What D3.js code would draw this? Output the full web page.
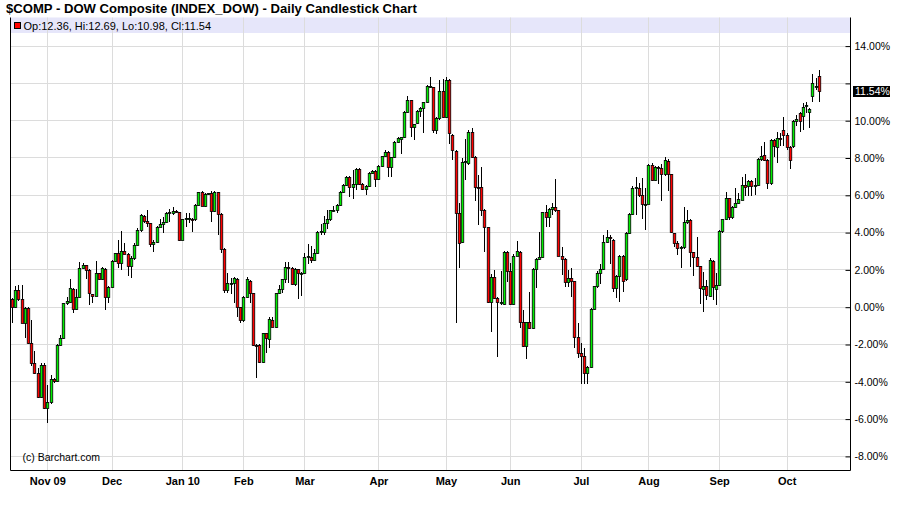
<!DOCTYPE html>
<html>
<head>
<meta charset="utf-8">
<script src="https://cdnjs.cloudflare.com/ajax/libs/d3/7.8.5/d3.min.js"></script>
<style>
	body { margin: 0; background: #fff; }
	svg { display: block; font-family: "Liberation Sans", Arial, Helvetica, sans-serif; }
</style>
</head>
<body>
<svg id="chart" width="900" height="511"></svg>
<script>
// daily candles, % change, Oct 16 2009 .. Oct 15 2010
var opens = [
	0.41, 0.00, 0.88, 0.41, -0.86, -0.09, -1.97, -3.00, -3.54, -4.84,
	-3.12, -5.45, -5.13, -3.86, -4.00, -2.06, -1.70, 0.18, 0.27, 0.93,
	-0.14, 0.50, 2.10, 2.22, 1.97, 0.68, 0.60, 1.79, 1.50, 2.00,
	0.54, 1.04, 2.43, 2.86, 2.32, 2.97, 2.83, 2.20, 2.60, 3.30,
	4.10, 4.86, 4.58, 4.47, 3.36, 3.49, 4.29, 4.41, 4.56, 5.00,
	5.00, 5.12, 5.06, 3.60, 4.68, 4.72, 4.70, 4.68, 5.43, 6.13,
	5.42, 6.04, 6.07, 5.11, 6.15, 4.95, 3.11, 0.88, 1.25, 1.28,
	1.48, -0.03, -0.73, 0.50, 1.38, 0.71, -2.05, -2.05, -2.95, -1.43,
	-1.75, -0.71, -1.10, 0.72, 0.95, 1.48, 2.15, 2.09, 1.23, 2.00,
	1.80, 1.80, 2.68, 2.68, 2.50, 2.90, 4.02, 4.02, 4.47, 4.68,
	5.18, 5.18, 5.45, 6.13, 6.52, 6.93, 6.40, 6.56, 7.38, 6.60,
	6.30, 6.47, 7.15, 7.30, 6.83, 7.55, 8.08, 8.30, 7.47, 8.00,
	8.83, 9.00, 9.10, 10.42, 11.06, 9.65, 9.83, 10.49, 10.63, 10.96,
	11.76, 11.76, 9.47, 10.10, 11.56, 10.19, 12.15, 9.20, 8.35, 5.00,
	3.45, 7.74, 7.69, 9.35, 8.04, 6.43, 6.40, 5.20, 4.29, 0.23,
	1.57, 0.45, 0.18, 0.13, 2.93, 1.93, 0.12, 2.72, 2.95, -0.84,
	-2.11, -0.84, -1.16, 2.00, 2.56, 2.65, 5.06, 4.83, 5.22, 5.36,
	5.18, 2.74, 2.56, 1.31, 1.52, 1.38, -1.61, -2.50, -2.64, -3.58,
	-3.25, -0.13, 1.09, 1.82, 2.00, 3.45, 3.72, 3.60, 0.98, 1.65,
	2.72, 1.47, 3.93, 4.95, 6.38, 6.38, 5.99, 5.49, 5.52, 7.60,
	6.79, 7.50, 7.42, 7.10, 7.80, 7.10, 3.93, 3.43, 3.13, 3.20,
	4.52, 4.63, 2.91, 2.65, 2.18, 0.93, 1.11, 0.57, 2.45, 0.93,
	1.16, 4.06, 4.68, 5.81, 4.79, 5.36, 5.58, 5.72, 6.52, 6.47,
	6.74, 6.47, 6.52, 7.90, 8.13, 7.86, 6.61, 8.94, 8.58, 9.04,
	9.50, 9.20, 8.54, 8.60, 9.95, 10.37, 10.20, 10.75, 10.42, 11.31,
	11.76, 12.36
];
var highs = [
	0.45, 1.10, 1.14, 1.14, 0.00, 0.00, -0.72, -2.40, -3.30, -3.04,
	-3.04, -4.20, -3.68, -3.80, -2.00, -1.50, 0.20, 0.50, 1.48, 1.00,
	0.95, 2.40, 2.35, 2.25, 2.00, 0.70, 2.45, 1.80, 2.12, 2.10,
	1.10, 2.50, 2.90, 3.56, 4.06, 3.40, 2.90, 2.70, 3.40, 4.20,
	4.95, 4.90, 5.18, 4.50, 3.55, 4.35, 4.68, 4.83, 5.10, 5.22,
	5.36, 5.20, 5.10, 4.70, 5.04, 5.00, 4.75, 5.50, 6.15, 6.20,
	6.10, 6.10, 6.20, 6.20, 6.17, 5.00, 3.15, 1.79, 1.55, 1.60,
	1.56, 0.00, 0.60, 1.57, 1.45, 0.75, -2.00, -1.98, -1.40, -1.40,
	-0.55, -0.55, 0.75, 1.16, 1.50, 2.41, 2.40, 2.15, 2.05, 2.02,
	1.85, 2.90, 3.34, 3.27, 3.07, 4.05, 4.43, 4.86, 5.18, 5.20,
	5.40, 5.50, 6.20, 6.60, 7.00, 7.00, 7.33, 7.45, 7.45, 6.65,
	6.50, 7.20, 7.35, 7.35, 7.60, 8.10, 8.40, 8.35, 8.05, 8.90,
	9.10, 9.10, 10.50, 11.30, 11.10, 9.80, 10.55, 10.70, 11.00, 11.90,
	12.33, 11.80, 10.15, 12.15, 12.19, 12.33, 12.20, 9.25, 8.40, 5.54,
	7.95, 8.97, 9.50, 9.56, 8.10, 7.04, 7.47, 5.25, 4.30, 1.75,
	1.97, 0.50, 1.91, 3.00, 3.00, 2.36, 2.80, 3.52, 3.00, -0.20,
	-0.80, 0.80, 2.05, 2.60, 4.02, 5.10, 5.45, 5.30, 5.57, 6.83,
	5.20, 3.20, 2.60, 1.97, 2.09, 1.40, -0.86, -1.97, -2.20, -3.20,
	-0.05, 1.13, 1.90, 2.27, 3.85, 4.11, 3.85, 3.65, 1.70, 2.77,
	2.78, 4.00, 5.00, 6.45, 6.97, 6.61, 6.88, 6.38, 7.65, 7.70,
	7.55, 7.55, 7.65, 8.00, 7.90, 7.12, 3.95, 3.50, 3.25, 5.36,
	5.18, 4.68, 2.95, 3.75, 2.20, 1.84, 1.43, 2.59, 2.50, 1.79,
	4.10, 4.72, 6.17, 5.85, 5.40, 6.35, 6.07, 6.97, 7.11, 6.80,
	6.80, 6.88, 7.95, 8.60, 8.85, 7.90, 9.00, 8.97, 9.38, 9.33,
	10.15, 9.30, 8.60, 10.00, 10.30, 10.45, 10.90, 11.00, 10.65, 12.50,
	12.25, 12.69
];
var lows = [
	-0.86, -0.05, 0.30, -0.90, -1.66, -2.00, -3.20, -3.60, -4.90, -4.90,
	-5.50, -6.22, -5.20, -4.10, -4.05, -2.10, -1.75, 0.10, 0.20, -0.36,
	-0.20, 0.45, 2.00, 1.46, 0.10, 0.18, 0.55, 1.45, 1.43, -0.18,
	0.18, 1.00, 2.40, 2.10, 1.97, 2.80, 1.66, 1.56, 2.50, 3.25,
	4.00, 4.50, 4.29, 3.18, 2.95, 3.40, 4.25, 3.97, 4.50, 4.52,
	4.90, 5.00, 3.54, 3.55, 4.25, 4.50, 4.02, 4.60, 5.40, 5.40,
	5.35, 6.00, 4.52, 5.10, 3.84, 2.86, 0.72, 0.75, 0.70, 0.18,
	-0.54, -0.86, -0.80, 0.45, 0.18, -2.10, -3.80, -3.00, -3.00, -2.50,
	-2.23, -1.10, -1.15, 0.66, 0.75, 1.25, 1.25, 1.16, 1.10, 0.39,
	0.57, 1.78, 2.30, 2.32, 2.45, 2.85, 3.86, 3.85, 4.15, 4.60,
	5.10, 5.00, 5.40, 6.10, 6.45, 5.90, 5.80, 6.25, 6.50, 6.25,
	5.99, 6.40, 7.10, 6.40, 6.80, 7.50, 8.00, 6.97, 6.97, 7.95,
	8.80, 8.20, 9.05, 10.40, 9.10, 8.94, 9.80, 10.18, 9.30, 10.90,
	11.70, 9.30, 9.26, 10.00, 10.10, 10.10, 8.72, 7.87, -0.86, 2.07,
	3.40, 6.79, 7.60, 7.98, 5.69, 4.38, 4.86, 2.95, 0.20, -1.34,
	0.40, -2.72, 0.10, 0.10, 1.34, 0.10, 0.10, 2.70, -1.16, -2.15,
	-2.82, -1.20, -1.20, 0.98, 2.50, 2.60, 4.25, 4.30, 4.90, 5.10,
	2.70, 1.70, 1.07, 1.07, 0.54, -2.20, -2.77, -4.14, -4.14, -4.14,
	-3.30, -0.20, 1.02, 1.20, 1.95, 3.40, 2.27, 0.80, 0.45, 0.23,
	0.80, 1.40, 3.90, 4.90, 4.92, 5.90, 4.70, 4.11, 5.50, 6.75,
	6.75, 6.56, 5.67, 7.00, 6.20, 3.95, 3.20, 2.77, 2.09, 3.10,
	4.45, 2.14, 1.66, 2.11, 0.16, -0.27, 0.36, 0.50, 0.36, 0.09,
	1.10, 3.93, 4.65, 4.65, 4.70, 5.30, 5.50, 5.70, 5.93, 5.93,
	5.93, 6.00, 6.45, 7.80, 7.80, 6.31, 6.55, 8.04, 7.69, 8.60,
	8.60, 8.40, 7.36, 8.50, 9.70, 9.35, 9.50, 10.40, 9.60, 10.98,
	11.60, 10.98
];
var closes = [
	0.00, 0.88, 0.41, -0.86, -0.09, -1.97, -3.00, -3.54, -4.84, -3.12,
	-5.45, -5.13, -3.86, -4.00, -2.06, -1.70, 0.18, 0.30, 0.98, -0.14,
	0.54, 2.10, 2.25, 1.97, 0.72, 0.60, 1.79, 1.50, 2.06, 0.54,
	1.04, 2.43, 2.86, 2.32, 3.00, 2.83, 2.20, 2.60, 3.30, 4.10,
	4.90, 4.58, 4.47, 3.36, 3.49, 4.29, 4.41, 4.56, 5.00, 5.10,
	5.12, 5.08, 3.58, 4.68, 4.73, 4.74, 4.68, 5.43, 6.13, 5.42,
	6.04, 6.07, 5.11, 6.15, 4.95, 3.11, 0.88, 1.25, 1.28, 1.52,
	-0.03, -0.73, 0.50, 1.48, 0.71, -2.05, -2.10, -2.95, -1.43, -1.70,
	-0.68, -1.07, 0.72, 0.95, 1.48, 2.15, 2.09, 1.23, 2.00, 1.80,
	1.82, 2.68, 2.70, 2.50, 2.90, 4.02, 4.06, 4.47, 4.68, 5.18,
	5.20, 5.45, 6.13, 6.52, 6.93, 6.40, 6.56, 7.38, 6.56, 6.30,
	6.47, 7.15, 7.30, 6.83, 7.55, 8.08, 8.30, 7.47, 8.00, 8.83,
	9.03, 9.10, 10.42, 11.06, 9.65, 9.77, 10.49, 10.63, 10.96, 11.83,
	11.83, 9.47, 10.10, 11.56, 10.19, 12.15, 9.30, 8.40, 5.00, 3.39,
	7.74, 7.81, 9.35, 8.04, 6.43, 6.40, 5.20, 4.29, 0.23, 1.57,
	0.45, 0.23, 0.23, 2.95, 1.93, 0.14, 2.72, 3.00, -0.80, -2.11,
	-0.84, -1.16, 2.00, 2.56, 2.65, 5.06, 4.83, 5.22, 5.36, 5.18,
	2.74, 2.56, 1.31, 1.52, 1.38, -1.61, -2.50, -2.64, -3.58, -3.25,
	-0.13, 1.09, 1.82, 2.00, 3.45, 3.72, 3.66, 0.98, 1.65, 2.72,
	1.39, 3.93, 4.95, 6.38, 6.40, 5.99, 5.49, 5.52, 7.60, 6.79,
	7.50, 7.42, 7.10, 7.86, 7.10, 3.99, 3.43, 3.13, 3.20, 4.56,
	4.63, 2.91, 2.65, 2.18, 0.98, 1.11, 0.63, 2.50, 1.07, 1.16,
	4.06, 4.68, 5.81, 4.83, 5.36, 5.58, 5.76, 6.52, 6.43, 6.74,
	6.47, 6.52, 7.90, 8.10, 7.86, 6.61, 8.94, 8.61, 9.04, 8.97,
	9.20, 8.54, 7.86, 9.95, 10.06, 9.95, 10.70, 10.80, 10.58, 11.97,
	11.85, 11.54
];

// month labels and the candle index where each month starts
var monthLabels = ["Nov 09", "Dec", "Jan 10", "Feb", "Mar", "Apr", "May", "Jun", "Jul", "Aug", "Sep", "Oct"];
var monthStart = [11, 31, 53, 72, 91, 114, 135, 155, 177, 198, 220, 241];
var yTicks = [-8, -6, -4, -2, 0, 2, 4, 6, 8, 10, 12, 14];

(function(){
	"use strict";

	var svg = d3.select("#chart");
	var left = 10.5, right = 850.5, top = 17.5, bottom = 470.5;
	var last = closes.length - 1;

	var x = d3.scaleLinear()
		.domain([0, last])
		.range([11.94, 818.8]);
	var y = d3.scaleLinear()
		.domain([-8, 14])
		.range([455.9, 45.6]);

	function px(v) { return Math.round(v) + 0.5; }

	var yc = y(closes[last]);

	// title
	svg.append("text")
		.attr("x", 6)
		.attr("y", 13)
		.attr("font-size", "13.1px")
		.attr("font-weight", "bold")
		.attr("fill", "#000")
		.text("$COMP - DOW Composite (INDEX_DOW) - Daily Candlestick Chart");

	// legend band
	svg.append("rect")
		.attr("x", left)
		.attr("y", top)
		.attr("width", right - left)
		.attr("height", 15.5)
		.attr("fill", "#e6e6fa");

	// grid
	svg.append("g").selectAll("line")
		.data(yTicks)
	  .enter().append("line")
		.attr("x1", left).attr("x2", right)
		.attr("y1", function(d) { return px(y(d)); })
		.attr("y2", function(d) { return px(y(d)); })
		.attr("stroke", "#dcdcdc");
	svg.append("g").selectAll("line")
		.data(monthStart)
	  .enter().append("line")
		.attr("x1", function(d) { return px(x(d)); })
		.attr("x2", function(d) { return px(x(d)); })
		.attr("y1", top).attr("y2", bottom)
		.attr("stroke", "#dcdcdc");

	// legend content
	svg.append("rect")
		.attr("x", 14.5).attr("y", 22.5)
		.attr("width", 6).attr("height", 6)
		.attr("fill", "#ff0000").attr("stroke", "#000");
	svg.append("text")
		.attr("x", 23.5)
		.attr("y", 30)
		.attr("font-size", "11px")
		.text("Op:" + opens[last].toFixed(2) + ", Hi:" + highs[last].toFixed(2) +
			", Lo:" + lows[last].toFixed(2) + ", Cl:" + closes[last].toFixed(2));

	// frame
	svg.append("path")
		.attr("d", "M" + left + "," + top + "V" + bottom + "H" + right + "V" + top)
		.attr("fill", "none")
		.attr("stroke", "#000");

	// right axis; a label that would sit under the last-value box is left out
	var yAxis = d3.axisRight(y)
		.tickValues(yTicks)
		.tickSize(-5)
		.tickSizeOuter(0)
		.tickPadding(4)
		.tickFormat(function(d) {
			return Math.abs(y(d) - yc) < 11 ? "" : d.toFixed(2) + "%";
		});
	var ya = svg.append("g")
		.attr("transform", "translate(" + right + ",0.5)")
		.call(yAxis);
	ya.select(".domain").remove();
	ya.selectAll("line").attr("stroke", "#000");
	ya.selectAll("text")
		.attr("font-family", null)
		.attr("font-size", "10.5px")
		.attr("fill", "#000");

	// bottom axis
	var xAxis = d3.axisBottom(x)
		.tickValues(monthStart)
		.tickSize(0)
		.tickFormat(function(d, i) { return monthLabels[i]; });
	var xa = svg.append("g")
		.attr("transform", "translate(0," + bottom + ")")
		.call(xAxis);
	xa.select(".domain").remove();
	xa.selectAll("text")
		.attr("y", 14)
		.attr("dy", null)
		.attr("font-family", null)
		.attr("font-size", "11px")
		.attr("font-weight", "bold")
		.attr("fill", "#000");

	// copyright
	svg.append("text")
		.attr("x", 22.5)
		.attr("y", 460.5)
		.attr("font-size", "10.5px")
		.text("(c) Barchart.com");

	// candles
	var idx = d3.range(closes.length);
	var candle = svg.append("g").selectAll("g")
		.data(idx)
	  .enter().append("g");
	candle.append("line")
		.attr("x1", function(i) { return px(x(i)); })
		.attr("x2", function(i) { return px(x(i)); })
		.attr("y1", function(i) { return Math.round(y(highs[i])); })
		.attr("y2", function(i) { return Math.round(y(lows[i])); })
		.attr("stroke", "#000");
	candle.append("rect")
		.attr("x", function(i) { return px(x(i)) - 1.25; })
		.attr("y", function(i) { return px(y(Math.max(opens[i], closes[i]))); })
		.attr("width", 2.5)
		.attr("height", function(i) {
			var h = Math.round(y(Math.min(opens[i], closes[i]))) - Math.round(y(Math.max(opens[i], closes[i])));
			return Math.max(h, 1);
		})
		.attr("fill", function(i) { return closes[i] >= opens[i] ? "#00ee00" : "#ff0000"; })
		.attr("stroke", "#000")
		.attr("stroke-width", 0.8);

	// last value marker
	svg.append("rect")
		.attr("x", 853).attr("y", Math.round(yc) - 5)
		.attr("width", 37).attr("height", 11)
		.attr("fill", "#000");
	svg.append("text")
		.attr("x", 855)
		.attr("y", Math.round(yc) + 4)
		.attr("font-size", "10.5px")
		.attr("fill", "#fff")
		.text(closes[last].toFixed(2) + "%");
})();
</script>
</body>
</html>
